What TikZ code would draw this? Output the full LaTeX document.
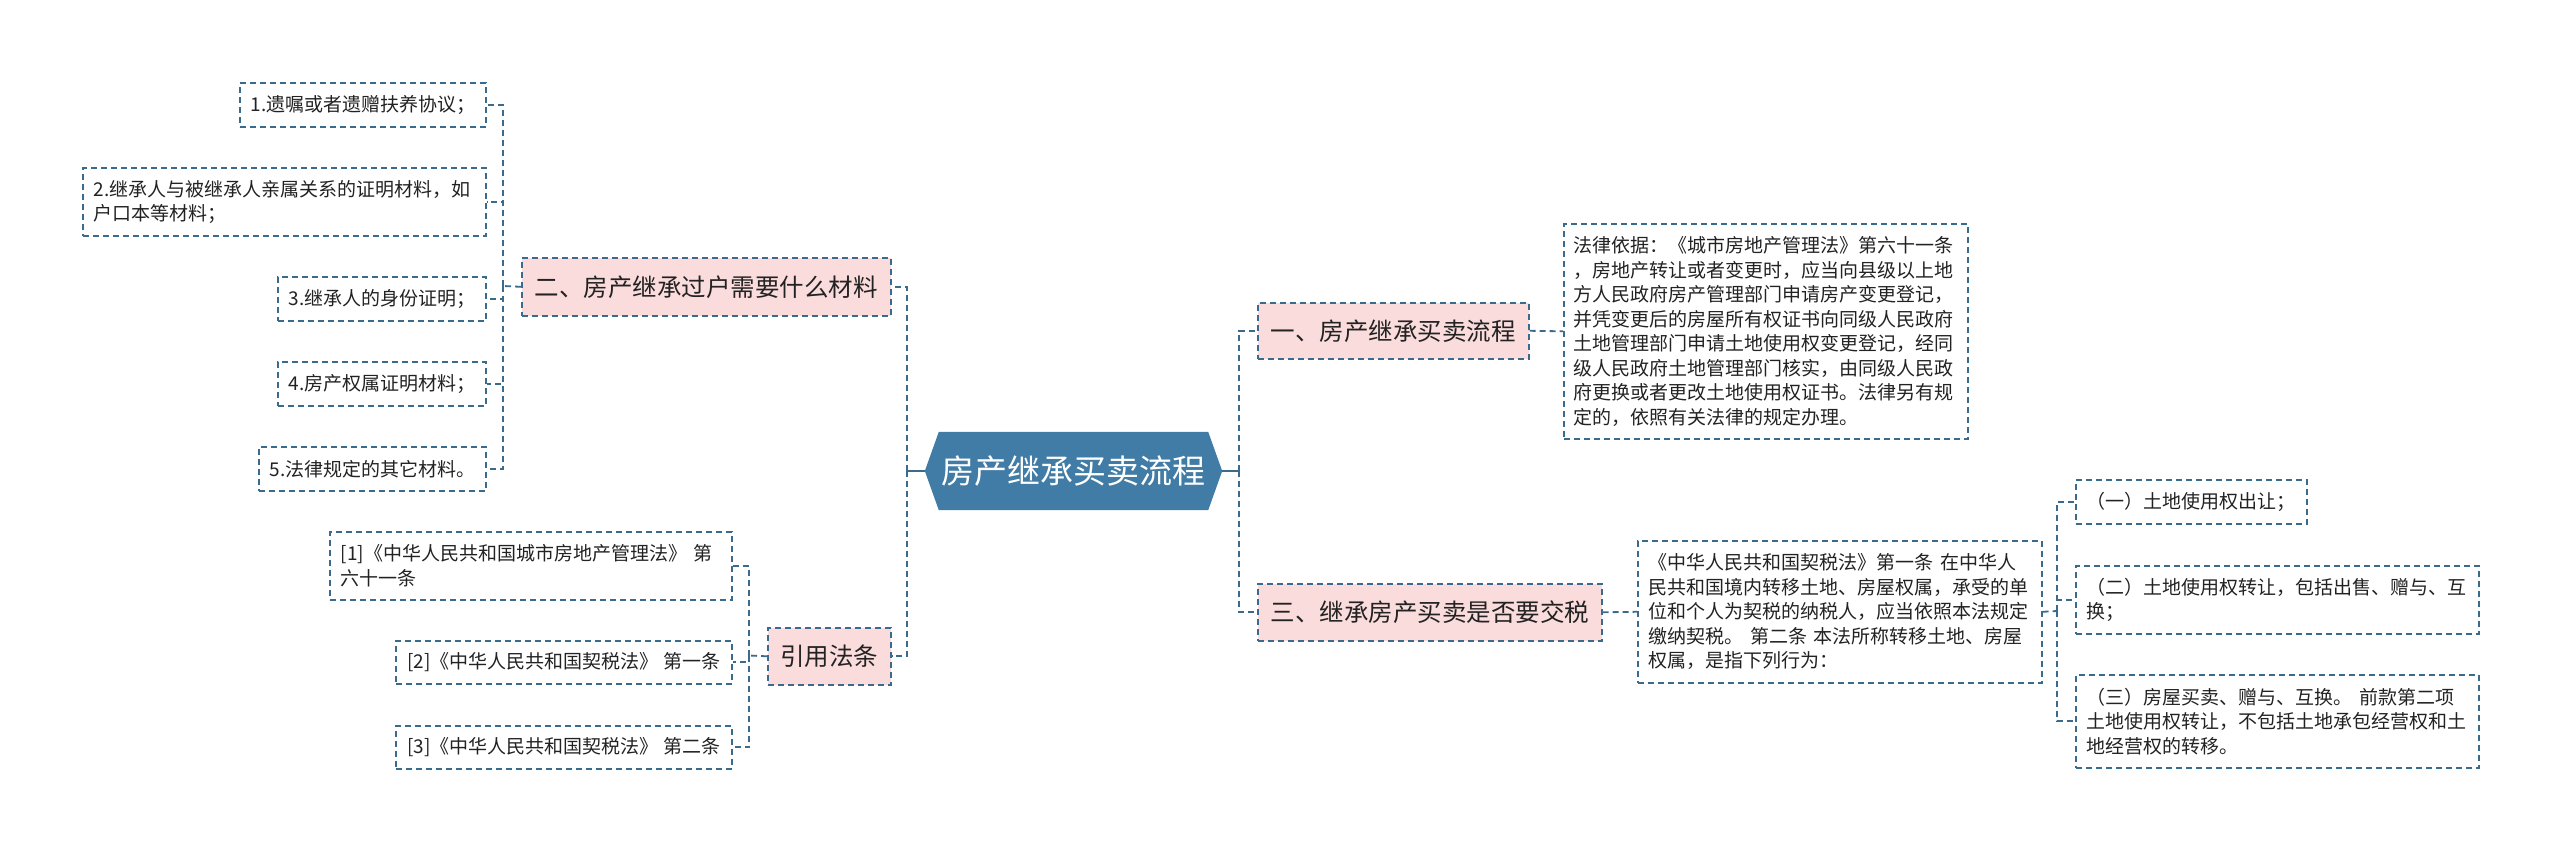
\documentclass[tikz,border=0pt]{standalone}
\usepackage{fontspec}
\setmainfont{Noto Sans CJK SC}
\usetikzlibrary{backgrounds}
\definecolor{lineblue}{HTML}{3A6A8C}
\definecolor{centerblue}{HTML}{417CA6}
\definecolor{pinkfill}{HTML}{FADCDC}
\definecolor{txt}{HTML}{222222}
\begin{document}
\begin{tikzpicture}[x=1pt,y=-1pt,
  conn/.style={draw=lineblue, line width=1.8pt, dash pattern=on 6pt off 4pt},
  solidconn/.style={draw=lineblue, line width=1.8pt},
  box/.style={draw=lineblue, line width=1.6pt, dash pattern=on 6pt off 4pt,
    inner xsep=11pt, inner ysep=0pt, align=left, anchor=north west,
    font=\fontsize{19}{24.5}\selectfont, text=txt},
  branch/.style={draw=lineblue, line width=1.6pt, dash pattern=on 6pt off 4pt,
    fill=pinkfill, inner sep=0pt, anchor=north west, align=center,
    font=\fontsize{24.5}{28}\selectfont, text=txt},
]
\useasboundingbox (0,0) rectangle (2560,851);

% center
\node[font=\fontsize{33}{36}\selectfont, text=white, minimum width=297pt,
  minimum height=78pt, inner sep=0pt] (c) at (1073.5,471) {房产继承买卖流程};
\begin{pgfonlayer}{background}
\fill[centerblue] (c.west) -- ([xshift=14pt]c.north west) -- ([xshift=-14pt]c.north east)
  -- (c.east) -- ([xshift=-14pt]c.south east) -- ([xshift=14pt]c.south west) -- cycle;
\end{pgfonlayer}

% left branch: materials
\node[branch, minimum width=369pt, minimum height=58pt] (b2) at (521,257) {二、房产继承过户需要什么材料};
\node[box, text width=224pt, minimum height=44pt] (l1) at (239,82) {1.遗嘱或者遗赠扶养协议；};
\node[box, text width=381pt, minimum height=68pt] (l2) at (82,167) {2.继承人与被继承人亲属关系的证明材料，如\\户口本等材料；};
\node[box, text width=186pt, minimum height=44pt] (l3) at (277,276) {3.继承人的身份证明；};
\node[box, text width=186pt, minimum height=44pt] (l4) at (277,361) {4.房产权属证明材料；};
\node[box, text width=205pt, minimum height=44pt] (l5) at (258,446) {5.法律规定的其它材料。};

% left branch: references
\node[branch, minimum width=123pt, minimum height=57pt] (bref) at (767,627) {引用法条};
\node[box, text width=380pt, minimum height=68pt] (r1) at (329,531) {[1]《中华人民共和国城市房地产管理法》 第\\六十一条};
\node[box, inner xsep=0pt, minimum width=336pt, minimum height=43pt] (r2) at (395,640) {[2]《中华人民共和国契税法》~第一条};
\node[box, inner xsep=0pt, minimum width=336pt, minimum height=43pt] (r3) at (395,725) {[3]《中华人民共和国契税法》~第二条};

% right branch: process
\node[branch, minimum width=271pt, minimum height=56pt] (b1) at (1257,302) {一、房产继承买卖流程};
\node[box, inner xsep=10pt, text width=384pt, minimum height=215pt] (law) at (1563,223) {法律依据：《城市房地产管理法》第六十一条\\，房地产转让或者变更时，应当向县级以上地\\方人民政府房产管理部门申请房产变更登记，\\并凭变更后的房屋所有权证书向同级人民政府\\土地管理部门申请土地使用权变更登记，经同\\级人民政府土地管理部门核实，由同级人民政\\府更换或者更改土地使用权证书。法律另有规\\定的，依照有关法律的规定办理。};

% right branch: tax
\node[branch, minimum width=344pt, minimum height=57pt] (b3) at (1257,583) {三、继承房产买卖是否要交税};
\node[box, text width=382pt, minimum height=142pt] (tax) at (1637,540) {《中华人民共和国契税法》第一条 在中华人\\民共和国境内转移土地、房屋权属，承受的单\\位和个人为契税的纳税人，应当依照本法规定\\缴纳契税。 第二条 本法所称转移土地、房屋\\权属，是指下列行为：};
\node[box, text width=209pt, minimum height=44pt] (i1) at (2075,479) {（一）土地使用权出让；};
\node[box, text width=381pt, minimum height=68pt] (i2) at (2075,565) {（二）土地使用权转让，包括出售、赠与、互\\换；};
\node[box, text width=381pt, minimum height=93pt] (i3) at (2075,674) {（三）房屋买卖、赠与、互换。 前款第二项\\土地使用权转让，不包括土地承包经营权和土\\地经营权的转移。};

% junctions
\coordinate (jL) at (907,471);
\coordinate (jR) at (1239,471);
\coordinate (j2) at (503,286);
\coordinate (jr) at (749,655.5);
\coordinate (j3) at (2057,611);

% connectors
\draw[solidconn] (c.west) -- (jL);
\draw[solidconn] (c.east) -- (jR);
\draw[conn] (jL) |- (b2.east);
\draw[conn] (jL) |- (bref.east);
\draw[conn] (jR) |- (b1.west);
\draw[conn] (jR) |- (b3.west);

\draw[conn] (b2.west) -- (j2);
\foreach \n in {l1,l2,l3,l4,l5} \draw[conn] (j2) |- (\n.east);

\draw[conn] (bref.west) -- (jr);
\foreach \n in {r1,r2,r3} \draw[conn] (jr) |- (\n.east);

\draw[conn] (b1.east) -- (law.west);
\draw[conn] (b3.east) -- (tax.west);
\draw[conn] (tax.east) -- (j3);
\foreach \n in {i1,i2,i3} \draw[conn] (j3) |- (\n.west);
\end{tikzpicture}
\end{document}
